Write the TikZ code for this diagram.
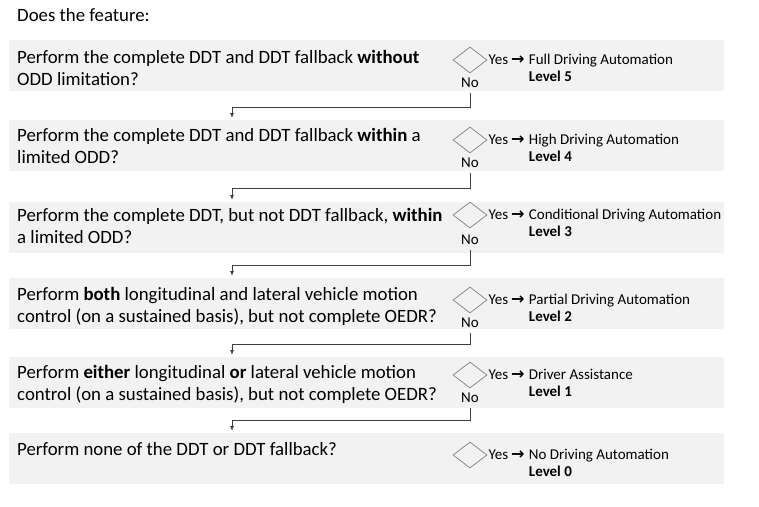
\documentclass[tikz,border=0pt]{standalone}
\usepackage{fontspec}
\setmainfont{Carlito}
\newfontfamily\arrowfont{DejaVu Sans}
\usetikzlibrary{positioning}
\usetikzlibrary{shapes.geometric}
\usetikzlibrary{arrows.meta}
\definecolor{bandgray}{HTML}{F2F2F2}
\definecolor{linegray}{HTML}{404040}
\definecolor{diagray}{HTML}{808080}
\newcommand{\yesarrow}{Yes\hspace{3pt}{\arrowfont\bfseries\fontsize{16}{17}\selectfont →}}
\tikzset{
	band/.style={fill=bandgray, minimum width=715pt, minimum height=51pt, anchor=north west, inner sep=0pt},
	question/.style={anchor=north west, inner sep=0pt, align=left, font=\fontsize{18.8}{22}\selectfont},
	choice/.style={diamond, draw=diagray, line width=0.7pt, minimum width=34pt, minimum height=26pt, inner sep=0pt},
	small/.style={inner sep=0pt, text height=11pt, text depth=3pt, font=\fontsize{15}{17}\selectfont},
	conn/.style={draw=linegray, line width=0.8pt, shorten <=2pt, shorten >=2pt, -{Latex[length=5pt,width=4pt]}}
}

\begin{document}
\begin{tikzpicture}[x=1pt, y=-1pt]
				\useasboundingbox (0,0) rectangle (759,506);

				%Bands
				\node[band] (b1) at (9,40) {};
				\node[band] (b2) at (9,120) {};
				\node[band] (b3) at (9,202) {};
				\node[band] (b4) at (9,278) {};
				\node[band] (b5) at (9,357) {};
				\node[band] (b6) at (9,433) {};

				%Questions
				\node[question] (intro) at (17,8) {Does the feature:};
				\node[question, below right=10pt and 8pt of b1.north west] (q1) {Perform the complete DDT and DDT fallback \textbf{without}\\ODD limitation?};
				\node[question, below right=8pt and 8pt of b2.north west] (q2) {Perform the complete DDT and DDT fallback \textbf{within} a\\limited ODD?};
				\node[question, below right=6pt and 8pt of b3.north west] (q3) {Perform the complete DDT, but not DDT fallback, \textbf{within}\\a limited ODD?};
				\node[question, below right=9pt and 8pt of b4.north west] (q4) {Perform \textbf{both} longitudinal and lateral vehicle motion\\control (on a sustained basis), but not complete OEDR?};
				\node[question, below right=8pt and 8pt of b5.north west] (q5) {Perform \textbf{either} longitudinal \textbf{or} lateral vehicle motion\\control (on a sustained basis), but not complete OEDR?};
				\node[question, below right=9pt and 8pt of b6.north west] (q6) {Perform none of the DDT or DDT fallback?};

				%Decisions
				\node[choice] (d1) at (470,60) {};
				\node[choice] (d2) at (470,140) {};
				\node[choice] (d3) at (470,215) {};
				\node[choice] (d4) at (470,300) {};
				\node[choice] (d5) at (470,375) {};
				\node[choice] (d6) at (470,455) {};

				\node[small, below=3pt of d1] (n1) {No};
				\node[small, below=3pt of d2] (n2) {No};
				\node[small, below=5pt of d3] (n3) {No};
				\node[small, below=3pt of d4] (n4) {No};
				\node[small, below=3pt of d5] (n5) {No};

				\node[small, right=1pt of d1] (y1) {\yesarrow};
				\node[small, right=1pt of d2] (y2) {\yesarrow};
				\node[small, right=1pt of d3] (y3) {\yesarrow};
				\node[small, right=1pt of d4] (y4) {\yesarrow};
				\node[small, right=1pt of d5] (y5) {\yesarrow};
				\node[small, right=1pt of d6] (y6) {\yesarrow};

				\node[small, right=4pt of y1] (a1) {Full Driving Automation};
				\node[small, right=4pt of y2] (a2) {High Driving Automation};
				\node[small, right=4pt of y3] (a3) {Conditional Driving Automation};
				\node[small, right=4pt of y4] (a4) {Partial Driving Automation};
				\node[small, right=4pt of y5] (a5) {Driver Assistance};
				\node[small, right=4pt of y6] (a6) {No Driving Automation};

				\node[small, below right=3pt and 0pt of a1.south west] (l1) {\textbf{Level 5}};
				\node[small, below right=3pt and 0pt of a2.south west] (l2) {\textbf{Level 4}};
				\node[small, below right=3pt and 0pt of a3.south west] (l3) {\textbf{Level 3}};
				\node[small, below right=3pt and 0pt of a4.south west] (l4) {\textbf{Level 2}};
				\node[small, below right=3pt and 0pt of a5.south west] (l5) {\textbf{Level 1}};
				\node[small, below right=3pt and 0pt of a6.south west] (l6) {\textbf{Level 0}};

				%Joints
				\coordinate (j1) at (232,107);
				\coordinate (j2) at (232,188);
				\coordinate (j3) at (232,265);
				\coordinate (j4) at (232,344);
				\coordinate (j5) at (232,420);

				%Lines
				\draw[conn] (n1.south) |- (j1) -- (b2.north -| j1);
				\draw[conn] (n2.south) |- (j2) -- (b3.north -| j2);
				\draw[conn] (n3.south) |- (j3) -- (b4.north -| j3);
				\draw[conn] (n4.south) |- (j4) -- (b5.north -| j4);
				\draw[conn] (n5.south) |- (j5) -- (b6.north -| j5);

			\end{tikzpicture}
\end{document}
